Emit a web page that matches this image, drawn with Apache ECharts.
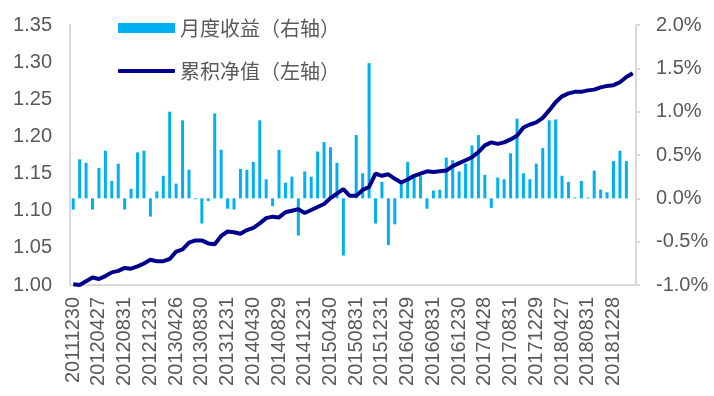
<!DOCTYPE html>
<html>
<head>
<meta charset="utf-8">
<script src="https://cdn.jsdelivr.net/npm/echarts@6/dist/echarts.min.js"></script>
<style>
  html, body { margin: 0; padding: 0; background: #fff; }
  #chart { width: 714px; height: 396px; }
</style>
</head>
<body>
<div id="chart"></div>
<script>
// month-end dates
const dates = [
  '20111230',
  '20120131','20120229','20120330','20120427','20120531','20120629','20120731','20120831','20120928','20121031','20121130','20121231',
  '20130131','20130228','20130329','20130426','20130531','20130628','20130731','20130830','20130930','20131031','20131129','20131231',
  '20140130','20140228','20140331','20140430','20140530','20140630','20140731','20140829','20140930','20141031','20141128','20141231',
  '20150130','20150227','20150331','20150430','20150529','20150630','20150731','20150831','20150930','20151030','20151130','20151231',
  '20160129','20160229','20160331','20160429','20160531','20160630','20160729','20160831','20160930','20161031','20161130','20161230',
  '20170126','20170228','20170331','20170428','20170531','20170630','20170731','20170831','20170929','20171031','20171130','20171229',
  '20180131','20180228','20180330','20180427','20180531','20180629','20180731','20180831','20180928','20181031','20181130','20181228',
  '20190131','20190228','20190329'
]

// 月度收益, in %
const monthlyReturn = [
  -0.13, 0.45, 0.41, -0.13, 0.35, 0.55, 0.20, 0.40, -0.13, 0.11, 0.53, 0.55,
  -0.21, 0.08, 0.26, 1.00, 0.17, 0.90, 0.33, -0.01, -0.29, -0.03, 0.98, 0.56,
  -0.12, -0.13, 0.34, 0.33, 0.42, 0.90, 0.22, -0.09, 0.56, 0.18, 0.25, -0.43,
  0.31, 0.25, 0.54, 0.65, 0.59, 0.41, -0.66, 0, 0.73, 0.29, 1.56, -0.29,
  0.19, -0.54, -0.30, 0.19, 0.42, 0.25, 0.26, -0.12, 0.09, 0.10, 0.47, 0.44,
  0.31, 0.40, 0.61, 0.73, 0.27, -0.11, 0.24, 0.22, 0.52, 0.92, 0.29, 0.22,
  0.40, 0.58, 0.90, 0.91, 0.26, 0.19, 0.01, 0.20, 0.01, 0.32, 0.10, 0.07,
  0.43, 0.55, 0.43, null
]

// 累积净值
const netValue = [
  1.001, 1.000, 1.005, 1.010, 1.008, 1.012, 1.017, 1.019, 1.023, 1.022, 1.025, 1.029,
  1.034, 1.032, 1.032, 1.035, 1.045, 1.048, 1.057, 1.060, 1.060, 1.056, 1.055, 1.066,
  1.072, 1.071, 1.069, 1.074, 1.077, 1.083, 1.090, 1.092, 1.091, 1.098, 1.100, 1.102,
  1.097, 1.101, 1.105, 1.109, 1.117, 1.123, 1.129, 1.120, 1.120, 1.128, 1.132, 1.150,
  1.147, 1.149, 1.143, 1.138, 1.142, 1.147, 1.150, 1.153, 1.152, 1.153, 1.154, 1.160,
  1.164, 1.168, 1.172, 1.179, 1.188, 1.192, 1.190, 1.192, 1.196, 1.201, 1.212, 1.216,
  1.219, 1.225, 1.235, 1.246, 1.254, 1.258, 1.260, 1.260, 1.262, 1.263, 1.266, 1.268,
  1.269, 1.273, 1.280, 1.285
]

// axis ranges
const leftAxis = { min: 1.00, max: 1.35, interval: 0.05 }
const rightAxis = { min: -1.0, max: 2.0, interval: 0.5 }

const axisGray = '#d9d9d9'
const textGray = '#595959'
const barColor = '#00b0f0'
const lineColor = '#00008c'

const legendText = {
  color: textGray,
  fontSize: 20,
  lineHeight: 22,
  fontFamily: '"Noto Sans CJK SC", sans-serif'
}

const chart = echarts.init(document.getElementById('chart'))

chart.setOption({
  animation: false,
  grid: {
    left: 70,
    right: 78,
    top: 25,
    bottom: 111
  },
  legend: [{
    left: 118,
    top: 17,
    padding: 0,
    itemWidth: 57,
    itemHeight: 10,
    textStyle: legendText,
    data: [{ name: '月度收益（右轴）', icon: 'rect' }]
  }, {
    left: 118,
    top: 60,
    padding: 0,
    itemWidth: 57,
    itemHeight: 4,
    textStyle: legendText,
    data: [{ name: '累积净值（左轴）', icon: 'roundRect' }]
  }],
  xAxis: {
    type: 'category',
    data: dates,
    axisLine: { onZero: false, lineStyle: { color: axisGray, width: 2 } },
    axisTick: { show: false },
    axisLabel: {
      rotate: 90,
      interval: 3,
      margin: 12,
      color: textGray,
      fontSize: 20,
      fontFamily: '"Liberation Sans", Arial, sans-serif'
    }
  },
  yAxis: [{
    type: 'value',
    min: leftAxis.min,
    max: leftAxis.max,
    interval: leftAxis.interval,
    splitLine: { show: false },
    axisLine: { show: true, lineStyle: { color: axisGray, width: 2 } },
    axisTick: { show: false },
    axisLabel: {
      margin: 18,
      color: textGray,
      fontSize: 20,
      fontFamily: '"Liberation Sans", Arial, sans-serif',
      formatter: v => v.toFixed(2)
    }
  }, {
    type: 'value',
    min: rightAxis.min,
    max: rightAxis.max,
    interval: rightAxis.interval,
    splitLine: { show: false },
    axisLine: { show: true, lineStyle: { color: axisGray, width: 2 } },
    axisTick: { show: true, length: 4, lineStyle: { color: axisGray, width: 2 } },
    axisLabel: {
      margin: 20,
      color: textGray,
      fontSize: 20,
      fontFamily: '"Liberation Sans", Arial, sans-serif',
      formatter: v => v.toFixed(1) + '%'
    }
  }],
  series: [{
    name: '月度收益（右轴）',
    type: 'bar',
    yAxisIndex: 1,
    barWidth: 3,
    itemStyle: { color: barColor },
    data: monthlyReturn
  }, {
    name: '累积净值（左轴）',
    type: 'line',
    yAxisIndex: 0,
    symbol: 'none',
    z: 3,
    lineStyle: { color: lineColor, width: 4 },
    itemStyle: { color: lineColor },
    data: netValue
  }]
})
</script>
</body>
</html>
